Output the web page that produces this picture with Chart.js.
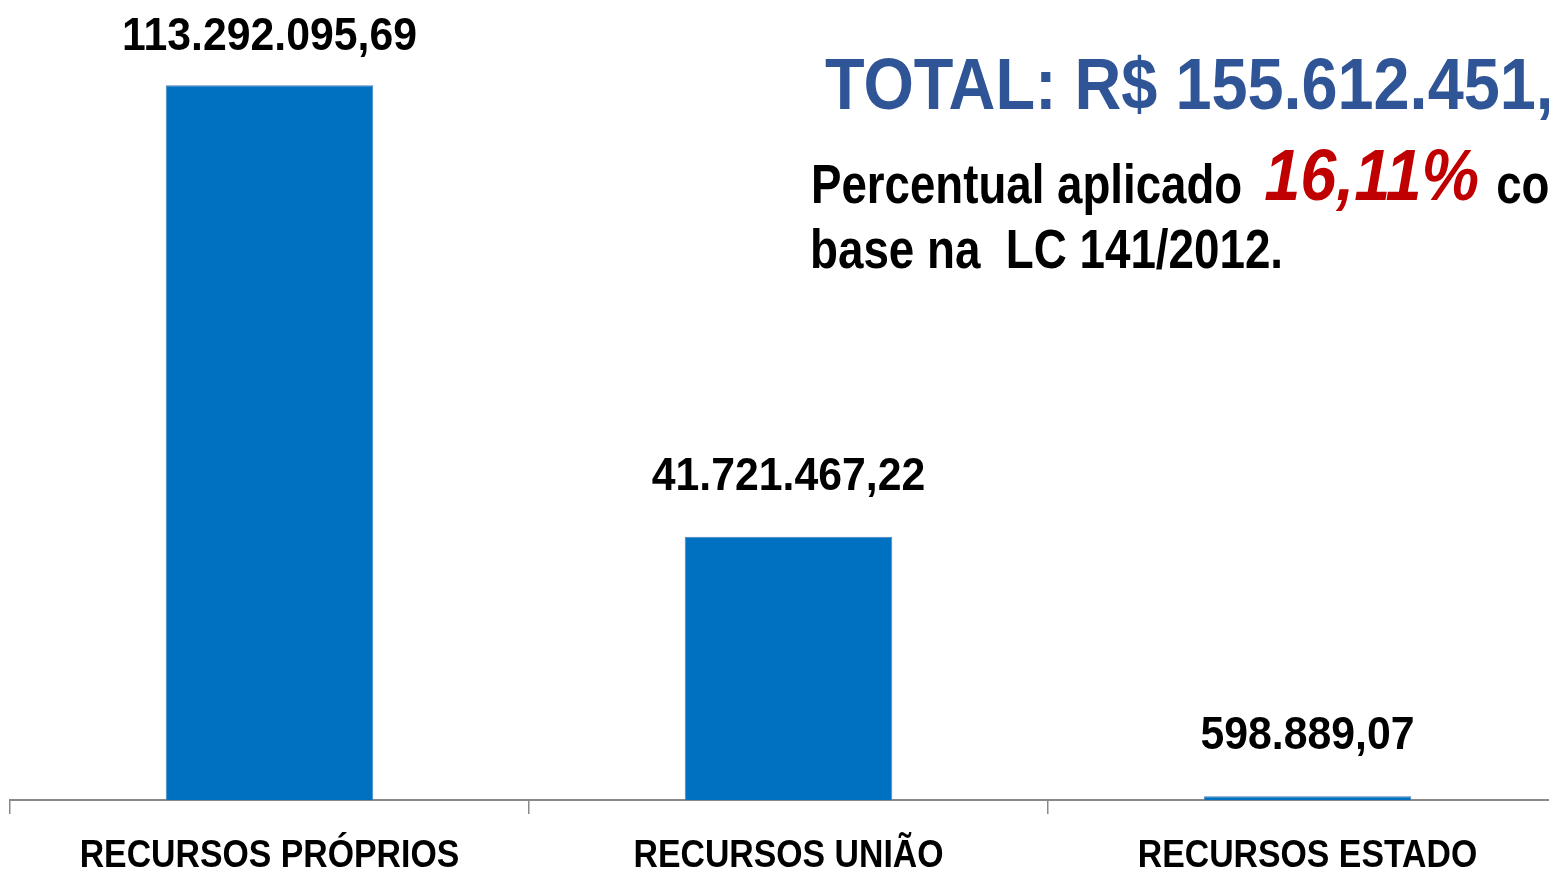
<!DOCTYPE html>
<html>
<head>
<meta charset="utf-8">
<script src="https://cdn.jsdelivr.net/npm/chart.js@4"></script>
<style>
  body { margin: 0; overflow: hidden; background: #fff; }
  #wrap { position: absolute; left: 0; top: 0; width: 1567px; height: 871px; }
</style>
</head>
<body>
<div id="wrap"><canvas id="myChart"></canvas></div>
<script>
var categories = ["RECURSOS PRÓPRIOS", "RECURSOS UNIÃO", "RECURSOS ESTADO"];
var values = [113292095.69, 41721467.22, 598889.07];
var valueLabels = ["113.292.095,69", "41.721.467,22", "598.889,07"];
var totalText = "TOTAL: R$ 155.612.451,98";
var percentText = "16,11%";

var sans = "'Liberation Sans', Arial, sans-serif";

// condensed text: the original uses a narrow face, so squeeze horizontally
function drawNarrow(ctx, text, x, y, font, sx, align) {
    ctx.save();
    ctx.translate(x, y);
    ctx.scale(sx, 1);
    ctx.font = font;
    ctx.textAlign = align || 'left';
    ctx.fillText(text, 0, 0);
    var w = ctx.measureText(text).width * sx;
    ctx.restore();
    return w;
}

var textPlugin = {
    id: 'textPlugin',
    afterDraw: function(chart) {
        var ctx = chart.ctx;
        var meta = chart.getDatasetMeta(0);
        var xs = chart.scales.x;
        ctx.save();
        ctx.textBaseline = 'alphabetic';
        ctx.fillStyle = '#000';

        // value labels above bars
        meta.data.forEach(function(bar, i) {
            var y = Math.max(bar.y - 47, 50);
            drawNarrow(ctx, valueLabels[i], bar.x, y, 'bold 46px ' + sans, 0.93, 'center');
        });

        // category labels under axis
        categories.forEach(function(c, i) {
            drawNarrow(ctx, c, xs.getPixelForTick(i), 867, 'bold 38px ' + sans, 0.89, 'center');
        });

        // title block
        ctx.fillStyle = '#2F5597';
        drawNarrow(ctx, totalText, 825, 109, 'bold 72px ' + sans, 0.90);

        ctx.fillStyle = '#000';
        var x = 811;
        x += drawNarrow(ctx, "Percentual aplicado", x, 203, 'bold 56px ' + sans, 0.815);
        x += 22;
        ctx.fillStyle = '#C00000';
        x += drawNarrow(ctx, percentText, x, 200, 'italic bold 72px ' + sans, 0.9);
        x += 17;
        ctx.fillStyle = '#000';
        drawNarrow(ctx, "com", x, 203, 'bold 56px ' + sans, 0.815);
        drawNarrow(ctx, "base na  LC 141/2012.", 810, 268, 'bold 56px ' + sans, 0.817);
        ctx.restore();
    }
};

var ctx = document.getElementById("myChart");
var myChart = new Chart(ctx, {
    type: 'bar',
    data: {
        labels: categories,
        datasets: [{
            data: values,
            backgroundColor: '#0070C0',
            borderColor: '#4F81BD',
            borderWidth: 1,
            categoryPercentage: 0.4,
            barPercentage: 1.0
        }]
    },
    options: {
        responsive: true,
        maintainAspectRatio: false,
        animation: false,
        layout: { padding: { left: 10, right: 0, top: 0, bottom: 0 } },
        plugins: {
            legend: { display: false },
            tooltip: { enabled: false },
            title: { display: false }
        },
        scales: {
            y: {
                display: false,
                min: 0,
                max: 126800000
            },
            x: {
                afterFit: function(scale) { scale.height = 71; },
                border: { display: true, color: '#898989', width: 2 },
                grid: {
                    offset: true,
                    drawOnChartArea: false,
                    drawTicks: true,
                    tickLength: 14,
                    color: '#898989',
                    lineWidth: 1.5
                },
                ticks: { display: false }
            }
        }
    },
    plugins: [textPlugin]
});
</script>
</body>
</html>
